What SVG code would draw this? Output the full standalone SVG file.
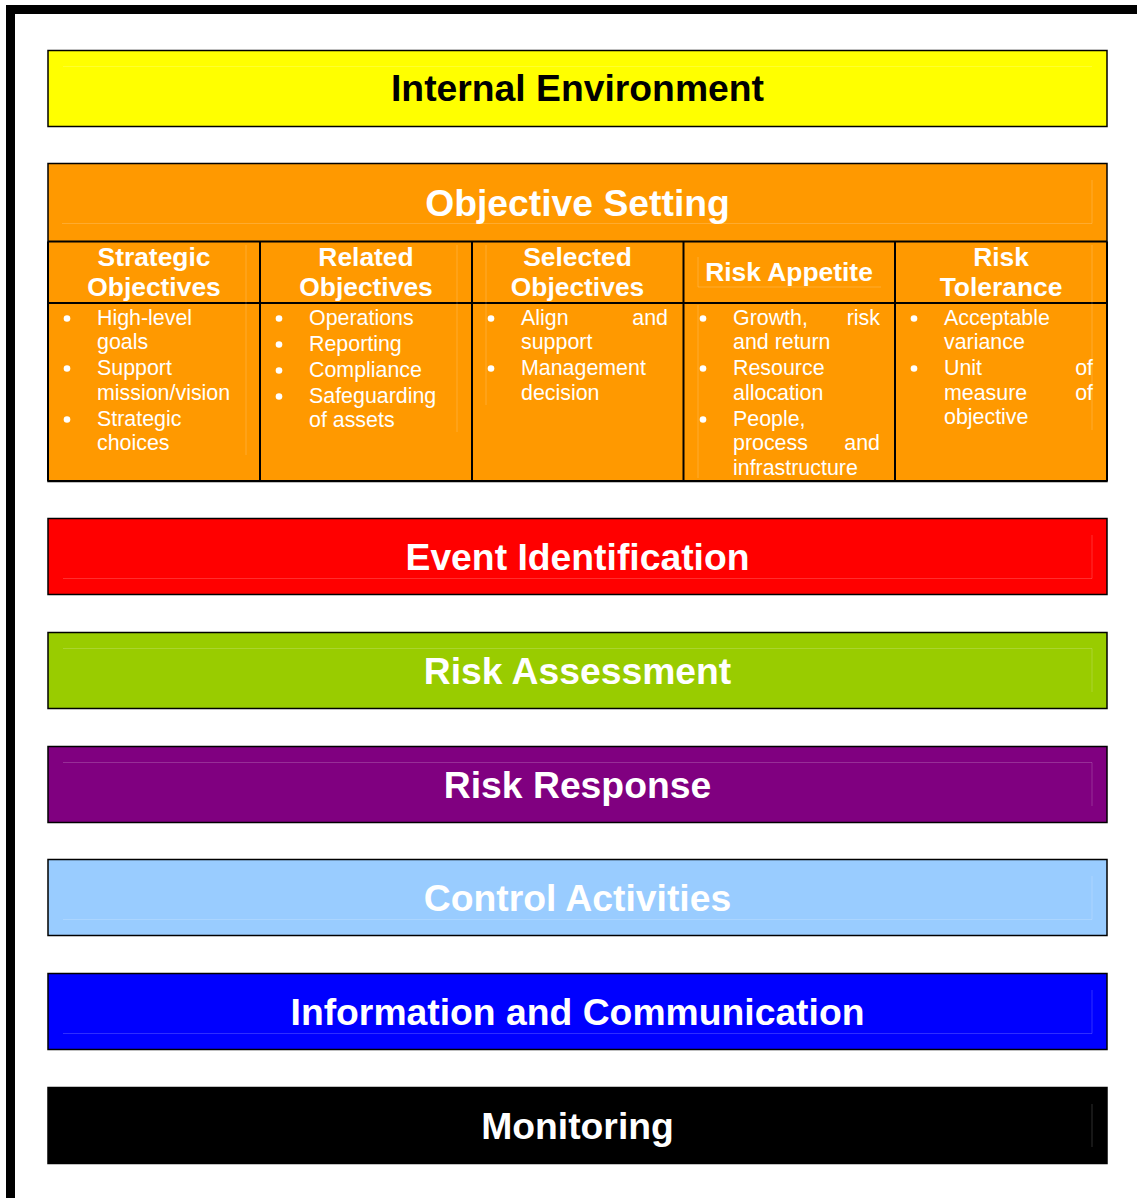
<svg xmlns="http://www.w3.org/2000/svg" width="1137" height="1198" viewBox="0 0 1137 1198">
<style>
.band{stroke:#000;stroke-width:1.5}
.title{font-family:"Liberation Sans",Arial,sans-serif;font-weight:bold;font-size:37.3px;text-anchor:middle;fill:#fff}
.hdr{font-family:"Liberation Sans",Arial,sans-serif;font-weight:bold;font-size:26.4px;text-anchor:middle;fill:#fff}
.body{font-family:"Liberation Sans",Arial,sans-serif;font-size:21.4px;fill:#fff}
.end{text-anchor:end}
.faint{fill:none;stroke:#fff;stroke-opacity:0.18;stroke-width:1}
.grid{stroke:#000;stroke-width:2;fill:none}
</style>
<rect width="1137" height="1198" fill="#fff"/>
<g id="frame">
<rect x="6" y="5" width="1131" height="9" fill="#000"/>
<rect x="6" y="5" width="9" height="1193" fill="#000"/>
</g>
<g id="internal-environment">
<rect class="band" x="48" y="50.5" width="1059" height="76" fill="#ffff00"/>
<path class="faint" d="M63 66.5H1092"/>
<text class="title" x="577.5" y="101" style="fill:#000">Internal Environment</text>
</g>
<g id="objective-setting">
<rect x="48" y="163.5" width="1059" height="318" fill="#ff9900" stroke="#000" stroke-width="1.5"/>
<path class="faint" d="M62 223.5H1092V180"/>
<text class="title" x="577.5" y="216">Objective Setting</text>
<path class="grid" d="M48 241.5H1107M48 303H1107M48 481H1107M48 241.5V481M260 241.5V481M472 241.5V481M683.5 241.5V481M895 241.5V481M1107 241.5V481"/>
<path class="faint" d="M246 245V455M457 245V432M486 245V405M698 305V478M1092 245V430M698 257V287H881"/>
<g id="strategic-objectives">
<text class="hdr" x="154" y="266">Strategic</text>
<text class="hdr" x="154" y="296">Objectives</text>
<circle cx="67" cy="318.5" r="3.3" fill="#fff"/>
<circle cx="67" cy="368.5" r="3.3" fill="#fff"/>
<circle cx="67" cy="419.5" r="3.3" fill="#fff"/>
<text class="body" x="97" y="325">High-level</text>
<text class="body" x="97" y="349">goals</text>
<text class="body" x="97" y="375">Support</text>
<text class="body" x="97" y="400">mission/vision</text>
<text class="body" x="97" y="426">Strategic</text>
<text class="body" x="97" y="450">choices</text>
</g>
<g id="related-objectives">
<text class="hdr" x="366" y="266">Related</text>
<text class="hdr" x="366" y="296">Objectives</text>
<circle cx="279" cy="318.5" r="3.3" fill="#fff"/>
<circle cx="279" cy="344.5" r="3.3" fill="#fff"/>
<circle cx="279" cy="370.5" r="3.3" fill="#fff"/>
<circle cx="279" cy="396.5" r="3.3" fill="#fff"/>
<text class="body" x="309" y="325">Operations</text>
<text class="body" x="309" y="351">Reporting</text>
<text class="body" x="309" y="377">Compliance</text>
<text class="body" x="309" y="403">Safeguarding</text>
<text class="body" x="309" y="427">of assets</text>
</g>
<g id="selected-objectives">
<text class="hdr" x="577.5" y="266">Selected</text>
<text class="hdr" x="577.5" y="296">Objectives</text>
<circle cx="491" cy="318.5" r="3.3" fill="#fff"/>
<circle cx="491" cy="368.5" r="3.3" fill="#fff"/>
<text class="body" x="521" y="325">Align</text>
<text class="body end" x="668" y="325">and</text>
<text class="body" x="521" y="349">support</text>
<text class="body" x="521" y="375">Management</text>
<text class="body" x="521" y="400">decision</text>
</g>
<g id="risk-appetite">
<text class="hdr" x="789" y="281">Risk Appetite</text>
<circle cx="703" cy="318.5" r="3.3" fill="#fff"/>
<circle cx="703" cy="368.5" r="3.3" fill="#fff"/>
<circle cx="703" cy="419.5" r="3.3" fill="#fff"/>
<text class="body" x="733" y="325">Growth,</text>
<text class="body end" x="880" y="325">risk</text>
<text class="body" x="733" y="349">and return</text>
<text class="body" x="733" y="375">Resource</text>
<text class="body" x="733" y="400">allocation</text>
<text class="body" x="733" y="426">People,</text>
<text class="body" x="733" y="450">process</text>
<text class="body end" x="880" y="450">and</text>
<text class="body" x="733" y="474.5">infrastructure</text>
</g>
<g id="risk-tolerance">
<text class="hdr" x="1001" y="266">Risk</text>
<text class="hdr" x="1001" y="296">Tolerance</text>
<circle cx="914" cy="318.5" r="3.3" fill="#fff"/>
<circle cx="914" cy="368.5" r="3.3" fill="#fff"/>
<text class="body" x="944" y="325">Acceptable</text>
<text class="body" x="944" y="349">variance</text>
<text class="body" x="944" y="375">Unit</text>
<text class="body end" x="1093" y="375">of</text>
<text class="body" x="944" y="400">measure</text>
<text class="body end" x="1093" y="400">of</text>
<text class="body" x="944" y="424">objective</text>
</g>
</g>
<g id="event-identification">
<rect class="band" x="48" y="518.5" width="1059" height="76" fill="#ff0000"/>
<path class="faint" d="M63 578.5H1092V535"/>
<text class="title" x="577.5" y="570">Event Identification</text>
</g>
<g id="risk-assessment">
<rect class="band" x="48" y="632.5" width="1059" height="76" fill="#99cc00"/>
<path class="faint" d="M63 648.5H1092V692"/>
<text class="title" x="577.5" y="684">Risk Assessment</text>
</g>
<g id="risk-response">
<rect class="band" x="48" y="746.5" width="1059" height="76" fill="#800080"/>
<path class="faint" d="M63 762.5H1092V806"/>
<text class="title" x="577.5" y="798">Risk Response</text>
</g>
<g id="control-activities">
<rect class="band" x="48" y="859.5" width="1059" height="76" fill="#99ccff"/>
<path class="faint" d="M63 919.5H1092V876"/>
<text class="title" x="577.5" y="911">Control Activities</text>
</g>
<g id="information-and-communication">
<rect class="band" x="48" y="973.5" width="1059" height="76" fill="#0000ff"/>
<path class="faint" d="M63 1033.5H1092V990"/>
<text class="title" x="577.5" y="1025">Information and Communication</text>
</g>
<g id="monitoring">
<rect class="band" x="48" y="1087.5" width="1059" height="76" fill="#000000"/>
<path class="faint" d="M1092 1104V1147"/>
<text class="title" x="577.5" y="1139">Monitoring</text>
</g>
</svg>
